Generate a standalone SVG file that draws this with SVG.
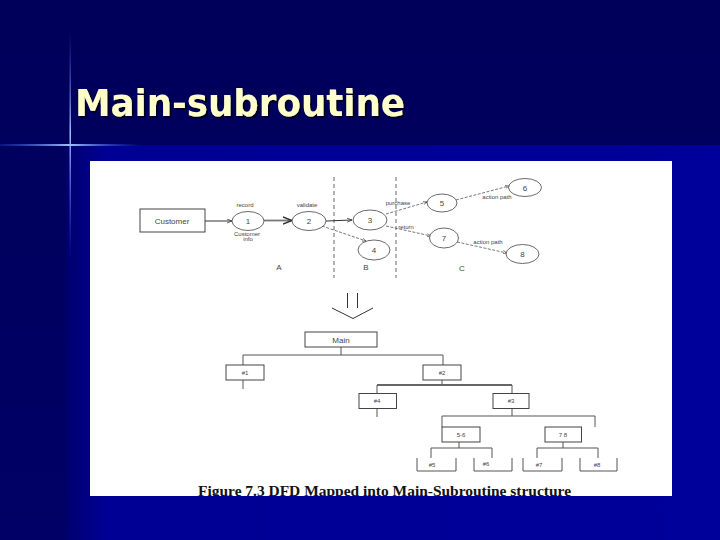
<svg xmlns="http://www.w3.org/2000/svg" width="720" height="540" viewBox="0 0 720 540">
<defs>
<linearGradient id="bgR" x1="0" y1="0" x2="1" y2="0">
<stop offset="0" stop-color="#00006e"/>
<stop offset="0.06" stop-color="#000094"/>
<stop offset="1" stop-color="#00009a"/>
</linearGradient>
<linearGradient id="bgT" x1="0" y1="0" x2="0" y2="1">
<stop offset="0" stop-color="#00005a"/>
<stop offset="1" stop-color="#000066"/>
</linearGradient>
<linearGradient id="glowH" x1="0" y1="0" x2="1" y2="0">
<stop offset="0" stop-color="#3060ff" stop-opacity="0.2"/>
<stop offset="0.5" stop-color="#a0c0ff" stop-opacity="1"/>
<stop offset="1" stop-color="#3060ff" stop-opacity="0"/>
</linearGradient>
<linearGradient id="glowV" x1="0" y1="0" x2="0" y2="1">
<stop offset="0" stop-color="#3060ff" stop-opacity="0"/>
<stop offset="0.45" stop-color="#a0c0ff" stop-opacity="1"/>
<stop offset="1" stop-color="#3060ff" stop-opacity="0"/>
</linearGradient>
<filter id="shadow" x="-5%" y="-20%" width="110%" height="140%">
<feDropShadow dx="2" dy="2" stdDeviation="0.3" flood-color="#000022" flood-opacity="1"/>
</filter>
<clipPath id="panelClip"><rect x="90" y="161" width="582" height="335"/></clipPath>
<marker id="arr" viewBox="0 0 10 10" refX="10" refY="5" markerWidth="5" markerHeight="5" orient="auto">
<path d="M0,1 L10,5 L0,9" fill="none" stroke="#333" stroke-width="1.5"/>
</marker>
<style>
.ln{stroke:#333;stroke-width:1;fill:none}
.dl{stroke:#555;stroke-width:0.8;fill:none;stroke-dasharray:3,1.5}
.bub{fill:#fff;stroke:#444;stroke-width:0.8}
.box{fill:#fff;stroke:#444;stroke-width:1}
.tr{stroke:#555;stroke-width:1;fill:none}
.t{font-family:"Liberation Sans",Arial,sans-serif;fill:#444;text-anchor:middle}
.s{font-size:6px}
.m{font-size:8px}
</style>
</defs>
<rect x="0" y="0" width="720" height="540" fill="url(#bgT)"/>
<rect x="66" y="145" width="654" height="395" fill="url(#bgR)"/>
<rect x="0" y="144" width="140" height="2" fill="url(#glowH)"/>
<rect x="69.5" y="30" width="1.5" height="230" fill="url(#glowV)"/>
<text x="75" y="116" font-family="'DejaVu Sans',Verdana,sans-serif" font-weight="bold" font-size="38" fill="#ffffcc" textLength="330" lengthAdjust="spacingAndGlyphs" filter="url(#shadow)">Main-subroutine</text>
<rect x="90" y="161" width="582" height="335" fill="#ffffff"/>
<g clip-path="url(#panelClip)">
<g id="partitions">
<line x1="334" y1="177" x2="334" y2="278" stroke="#666" stroke-width="1" stroke-dasharray="4,3"/>
<line x1="396" y1="177" x2="396" y2="278" stroke="#666" stroke-width="1" stroke-dasharray="4,3"/>
<text class="t m" x="279" y="270">A</text>
<text class="t m" x="366" y="270">B</text>
<text class="t m" x="462" y="271">C</text>
</g>
<g id="connectors">
<line class="ln" x1="205" y1="221" x2="232" y2="221" marker-end="url(#arr)"/>
<line x1="264" y1="220.5" x2="292" y2="220.5" stroke="#777" stroke-width="1.8" marker-end="url(#arr)"/>
<line class="ln" x1="326" y1="221" x2="352" y2="220" marker-end="url(#arr)"/>
<line class="dl" x1="322" y1="226" x2="366" y2="241" marker-end="url(#arr)"/>
<line class="dl" x1="386" y1="214" x2="427" y2="202" marker-end="url(#arr)"/>
<line class="dl" x1="386" y1="226" x2="431" y2="236" marker-end="url(#arr)"/>
<line class="dl" x1="456" y1="200" x2="509" y2="186" marker-end="url(#arr)"/>
<line class="dl" x1="457" y1="242" x2="507" y2="253" marker-end="url(#arr)"/>
<text class="t s" x="245" y="207">record</text>
<text class="t s" x="307" y="207">validate</text>
<text class="t s" x="247" y="236">Customer</text>
<text class="t s" x="248" y="241">info</text>
<text class="t s" x="398" y="205">purchase</text>
<text class="t s" x="406" y="229">return</text>
<text class="t s" x="497" y="199">action path</text>
<text class="t s" x="488" y="244">action path</text>
<path d="M347.5,293 V308 M357.5,293 V308 M332,308 L353,318.5 L373,308" class="ln"/>
<path class="tr" d="M341,347 V355 M243,365 V355 H443 V365 M243,380 V389 M442,380 V385 M377,393 V385 H512 V393 M377,409 V417 M512,409 V416 M442,427 V416 H595 V427 M459,442 V448 M431,458 V448 H492 V458 M563,442 V448 M537,458 V448 H598 V458"/>
<line x1="377" y1="385" x2="512" y2="385" stroke="#666" stroke-width="2"/>
</g>
<g id="customer"><rect class="box" x="140" y="209" width="65" height="23"/><text class="t m" x="172" y="223.5">Customer</text></g>
<g id="p1"><ellipse class="bub" cx="248" cy="221" rx="16" ry="9.5"/><text class="t m" x="248" y="224">1</text></g>
<g id="p2"><ellipse class="bub" cx="309" cy="221" rx="17" ry="9.5"/><text class="t m" x="309" y="224">2</text></g>
<g id="p3"><ellipse class="bub" cx="370" cy="220" rx="17" ry="10"/><text class="t m" x="370" y="223">3</text></g>
<g id="p4"><ellipse class="bub" cx="374" cy="250" rx="16" ry="10"/><text class="t m" x="374" y="253">4</text></g>
<g id="p5"><ellipse class="bub" cx="442" cy="203" rx="15" ry="9"/><text class="t m" x="442" y="206">5</text></g>
<g id="p6"><ellipse class="bub" cx="525" cy="187.5" rx="16.5" ry="9"/><text class="t m" x="525" y="190.5">6</text></g>
<g id="p7"><ellipse class="bub" cx="444" cy="238" rx="14.5" ry="10"/><text class="t m" x="444" y="241">7</text></g>
<g id="p8"><ellipse class="bub" cx="522.5" cy="254" rx="16.5" ry="9.5"/><text class="t m" x="522.5" y="257">8</text></g>
<g id="main"><rect class="box" x="305" y="332" width="72" height="15"/><text class="t m" x="341" y="342.5">Main</text></g>
<g id="m1"><rect class="box" x="226" y="365" width="38" height="15"/><text class="t s" x="245" y="374.5">#1</text></g>
<g id="m2"><rect class="box" x="423" y="365" width="38" height="15" stroke="#777"/><text class="t s" x="442" y="374.5">#2</text></g>
<g id="m4"><rect class="box" x="359" y="393.5" width="37.5" height="15" stroke="#777"/><text class="t s" x="377" y="403">#4</text></g>
<g id="m3"><rect class="box" x="493" y="393.5" width="36" height="15" stroke="#777"/><text class="t s" x="511" y="403">#3</text></g>
<g id="m56"><rect class="box" x="442" y="427" width="38" height="15" stroke="#333" stroke-width="1.3"/><text class="t s" x="461" y="436.5">5-6</text></g>
<g id="m78"><rect class="box" x="545" y="427" width="36.5" height="15" stroke="#666"/><text class="t s" x="563" y="436.5">7 8</text></g>
<g id="m5"><path class="tr" d="M417,458 V471 H456 V458"/><text class="t s" x="432" y="467">#5</text></g>
<g id="m6"><path class="tr" d="M474,458 V471 H512 V458"/><text class="t s" x="486" y="466">#6</text></g>
<g id="m7"><path class="tr" d="M523,458 V471 H562 V458"/><text class="t s" x="539" y="467">#7</text></g>
<g id="m8"><path class="tr" d="M580,458 V471 H617 V458"/><text class="t s" x="597" y="467">#8</text></g>
<text x="198" y="496" font-family="'Liberation Serif','Times New Roman',serif" font-weight="bold" font-size="14" fill="#111" textLength="373" lengthAdjust="spacingAndGlyphs">Figure 7.3 DFD Mapped into Main-Subroutine structure</text>
</g>
</svg>
